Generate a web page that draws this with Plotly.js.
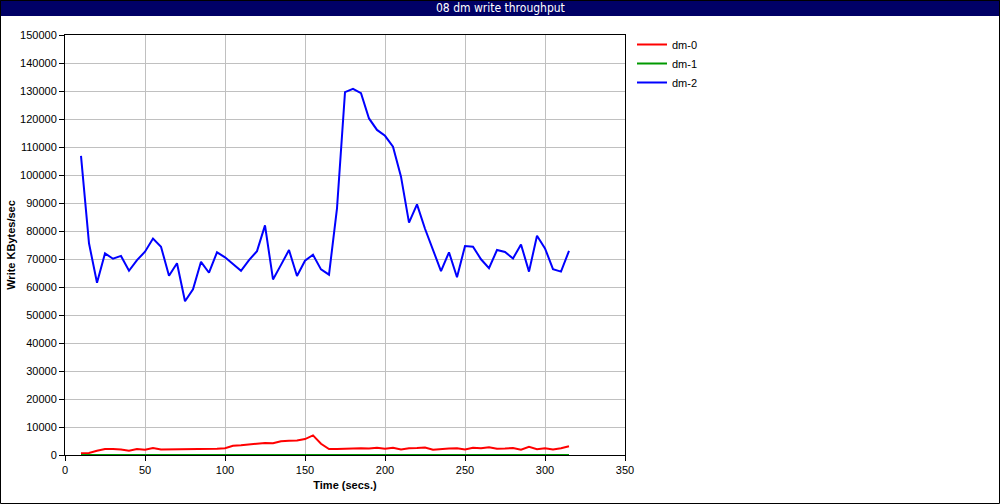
<!DOCTYPE html>
<html>
<head>
<meta charset="utf-8">
<script src="https://cdn.plot.ly/plotly-3.0.1.min.js"></script>
<style>html,body{margin:0;padding:0;background:#fff;}#chart{width:1000px;height:504px;}</style>
</head>
<body>
<div id="chart"></div>
<script>
const time = [10,15,20,25,30,35,40,45,50,55,60,65,70,75,80,85,90,95,100,105,110,115,120,125,130,135,140,145,150,155,160,165,170,175,180,185,190,195,200,205,210,215,220,225,230,235,240,245,250,255,260,265,270,275,280,285,290,295,300,305,310,315];
const dm0 = [600,700,1500,2100,2100,2000,1500,2100,1900,2500,2000,2000,2100,2100,2200,2000,2000,2200,2400,3300,3500,3800,4200,4300,4200,4900,5100,5200,5700,7000,4000,2100,2100,2200,2500,2400,2300,2600,2200,2600,2000,2400,2500,2700,1900,2200,2300,2400,2000,2600,2400,2800,2200,2300,2500,1900,2900,2100,2400,2000,2400,3100];
const dm1 = [0,0,0,0,0,0,0,0,0,0,0,0,0,0,0,0,0,0,0,0,0,0,0,0,0,0,0,0,0,0,0,0,0,0,0,0,0,0,0,0,0,0,0,0,0,0,0,0,0,0,0,0,0,0,0,0,0,0,0,0,0,0];
const dm2 = [106800,75600,61500,72000,70100,71100,65800,69600,72600,77300,74400,64000,68500,54900,59200,69000,65100,72400,70600,68200,65800,69600,72800,82000,62700,67900,73200,63900,69400,71500,66300,64400,88100,129600,130800,129200,120200,116100,114000,110100,99400,83000,89500,80800,73400,65700,72400,63500,74600,74400,69900,66700,73200,72500,70200,75200,65500,78300,73800,66400,65500,72900];
const seriesNames = ["dm-0","dm-1","dm-2"];
const seriesColors = ["#ff0000","#009900","#0000ff"];
const seriesData = [dm0, dm1, dm2];

const traces = seriesData.map((d,i)=>({
  x: time, y: d, type: 'scatter', mode: 'lines', name: seriesNames[i],
  line: {color: seriesColors[i], width: 2}
}));

const L = 65, R = 625, T = 35, B = 455, W = 1000, H = 504;
const pw = R - L, ph = B - T;
const px = v => (v - L) / pw;
const py = v => (B - v) / ph;

const font = "Liberation Sans, Arial, Helvetica, sans-serif";
const layout = {
  width: W, height: H,
  margin: {l: L, r: W - R, t: T, b: H - B, pad: 0},
  paper_bgcolor: '#ffffff', plot_bgcolor: '#ffffff',
  showlegend: true,
  font: {family: font, size: 11, color: '#000'},
  xaxis: {
    range: [0, 350], dtick: 50, tick0: 0,
    showgrid: true, gridcolor: '#c0c0c0', gridwidth: 1,
    zeroline: false, showline: true, linecolor: '#000', linewidth: 1, mirror: true,
    ticks: 'outside', ticklen: 5, tickcolor: '#000',
    tickfont: {family: font, size: 11, color: '#000'},
    title: {text: 'Time (secs.)', font: {family: font, size: 11, color: '#000', weight: 'bold'}, standoff: 6}
  },
  yaxis: {
    range: [0, 150000], dtick: 10000, tick0: 0,
    showgrid: true, gridcolor: '#c0c0c0', gridwidth: 1,
    zeroline: false, showline: true, linecolor: '#000', linewidth: 1, mirror: true,
    ticks: 'outside', ticklen: 5, tickcolor: '#000',
    tickformat: 'd',
    tickfont: {family: font, size: 11, color: '#000'},
    title: {text: 'Write KBytes/sec', font: {family: font, size: 11, color: '#000', weight: 'bold'}, standoff: 2}
  },
  legend: {
    x: px(632), y: py(30), xanchor: 'left', yanchor: 'top',
    bgcolor: 'rgba(0,0,0,0)', borderwidth: 0,
    font: {family: font, size: 11, color: '#000'},
    itemwidth: 30, tracegroupgap: 0
  },
  shapes: [
    {type: 'rect', xref: 'paper', yref: 'paper', x0: px(0), x1: px(W), y0: py(0), y1: py(16),
     fillcolor: '#000066', line: {width: 0}, layer: 'above'},
    {type: 'rect', xref: 'paper', yref: 'paper', x0: px(0.5), x1: px(W - 0.5), y0: py(0.5), y1: py(H - 0.5),
     fillcolor: 'rgba(0,0,0,0)', line: {color: '#000', width: 1}, layer: 'above'}
  ],
  annotations: [
    {xref: 'paper', yref: 'paper', x: px(500), y: py(8), xanchor: 'center', yanchor: 'middle',
     text: '08 dm write throughput', showarrow: false,
     font: {family: 'Liberation Sans Narrow, DejaVu Sans Condensed, Arial Narrow, sans-serif', size: 12, color: '#ffffff'}}
  ]
};

Plotly.newPlot('chart', traces, layout, {displayModeBar: false, staticPlot: true});
</script>
</body>
</html>
